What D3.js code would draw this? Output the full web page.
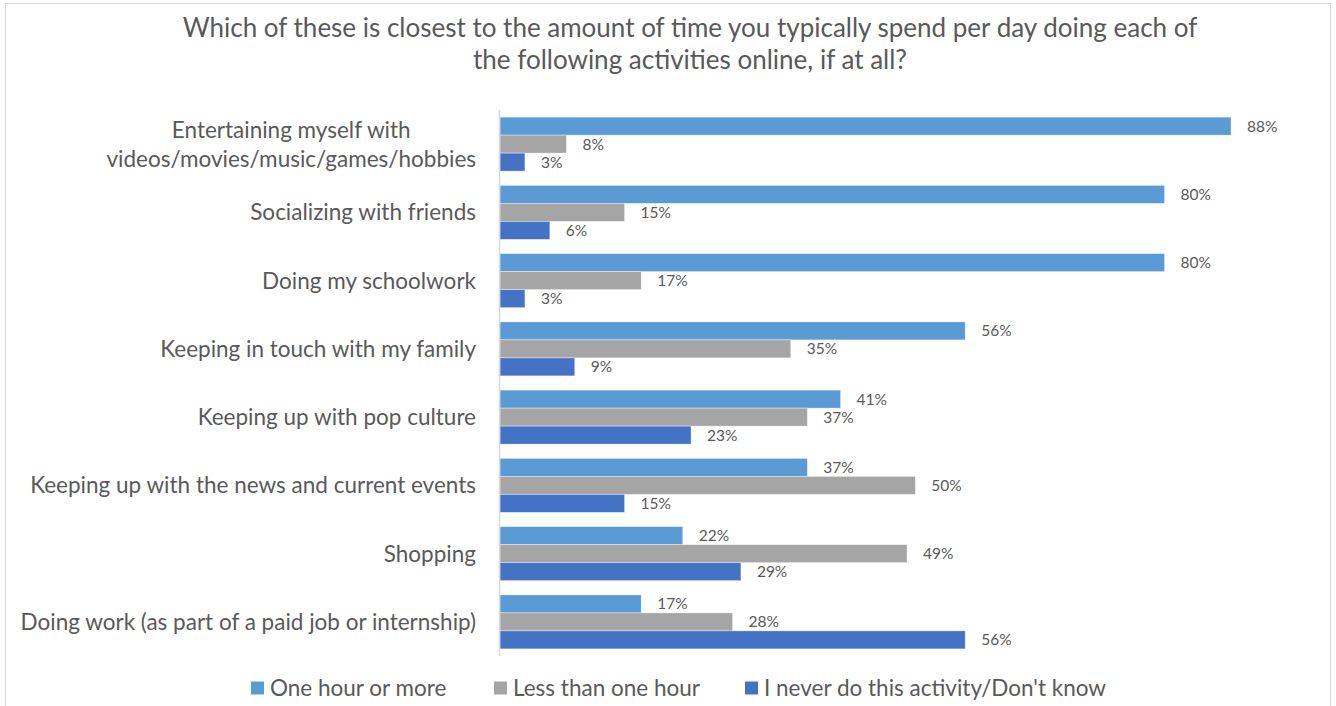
<!DOCTYPE html>
<html>
<head>
<meta charset="utf-8">
<script src="https://cdn.jsdelivr.net/npm/d3@7"></script>
<style>
  html, body { margin: 0; padding: 0; background: #fff; }
  svg { display: block; font-family: Lato, "Open Sans", sans-serif; }
</style>
</head>
<body>
<svg id="chart" width="1336" height="706"></svg>
<script>
// Survey answers: share of respondents per activity (%)
const categories = [
  ["Entertaining myself with", "videos/movies/music/games/hobbies"],
  ["Socializing with friends"],
  ["Doing my schoolwork"],
  ["Keeping in touch with my family"],
  ["Keeping up with pop culture"],
  ["Keeping up with the news and current events"],
  ["Shopping"],
  ["Doing work (as part of a paid job or internship)"]
];
const seriesNames = ["One hour or more", "Less than one hour", "I never do this activity/Don't know"];
const oneHourOrMore   = [88, 80, 80, 56, 41, 37, 22, 17];
const lessThanOneHour = [8, 15, 17, 35, 37, 50, 49, 28];
const neverOrDontKnow = [3, 6, 3, 9, 23, 15, 29, 56];
const seriesColors = ["#5B9BD5", "#A5A5A5", "#4472C4"];
const titleLines = [
  "Which of these is closest to the amount of time you typically spend per day doing each of",
  "the following activities online, if at all?"
];

const seriesValues = [oneHourOrMore, lessThanOneHour, neverOrDontKnow];
const catKeys = categories.map(c => c.join(" "));
const textColor = "#595959";

const svg = d3.select("#chart");

// outer chart frame
svg.append("rect")
  .attr("x", 5.5).attr("y", 3.5)
  .attr("width", 1325).attr("height", 720)
  .attr("fill", "#fff")
  .attr("stroke", "#d9d9d9").attr("stroke-width", 1);

// title
svg.append("g").selectAll("text")
  .data(titleLines)
  .join("text")
  .attr("x", 690)
  .attr("y", (d, i) => 37 + i * 32)
  .attr("text-anchor", "middle")
  .attr("fill", textColor)
  .attr("font-size", 26)
  .text(d => d);

// scales
const x = d3.scaleLinear().domain([0, 100]).range([500, 1330.7]);
const y = d3.scaleBand().domain(catKeys).range([110, 656]).paddingInner(0.209).paddingOuter(0.1045);
const ySub = d3.scaleBand().domain(d3.range(seriesNames.length)).range([0, y.bandwidth()]);

// bars
const groups = svg.append("g").selectAll("g")
  .data(catKeys)
  .join("g")
  .attr("transform", d => `translate(0,${y(d)})`);

groups.each(function (key, ci) {
  const g = d3.select(this);
  const rows = seriesValues.map((vals, si) => ({ si, v: vals[ci] }));
  g.selectAll("rect")
    .data(rows)
    .join("rect")
    .attr("x", x(0))
    .attr("y", d => ySub(d.si))
    .attr("width", d => x(d.v) - x(0))
    .attr("height", ySub.bandwidth())
    .attr("fill", d => seriesColors[d.si])
    .attr("stroke", "#fff")
    .attr("stroke-opacity", 0.5)
    .attr("stroke-width", 0.75);
  g.selectAll("text")
    .data(rows)
    .join("text")
    .attr("x", d => x(d.v) + 16)
    .attr("y", d => ySub(d.si) + ySub.bandwidth() / 2)
    .attr("dy", "0.36em")
    .attr("fill", textColor)
    .attr("font-size", 15.5)
    .text(d => d.v + "%");
});

// category axis line
svg.append("line")
  .attr("x1", x(0) - 0.5).attr("x2", x(0) - 0.5)
  .attr("y1", y.range()[0]).attr("y2", y.range()[1])
  .attr("stroke", "#d9d9d9").attr("stroke-width", 1.5);

// category labels: a wrapped label is centred on its widest line,
// and the block as a whole is right-aligned against the axis
const labelRight = 476;
const catLabels = svg.append("g").selectAll("text")
  .data(categories)
  .join("text")
  .attr("fill", textColor)
  .attr("font-size", 22.5)
  .attr("transform", (d, i) => `translate(0,${y(catKeys[i]) + y.bandwidth() / 2})`);
catLabels.each(function (lines) {
  const t = d3.select(this);
  const spans = t.selectAll("tspan")
    .data(lines.map((line, j) => ({ line, j, n: lines.length })))
    .join("tspan")
    .attr("y", d => (d.j - (d.n - 1) / 2) * 29)
    .attr("dy", "0.35em")
    .text(d => d.line);
  if (lines.length === 1) {
    t.attr("text-anchor", "end");
    spans.attr("x", labelRight);
  } else {
    const widest = d3.max(spans.nodes(), n => n.getComputedTextLength());
    t.attr("text-anchor", "middle");
    spans.attr("x", labelRight - widest / 2);
  }
});

// legend
const legendX = [251, 494, 745];
const legend = svg.append("g").selectAll("g")
  .data(seriesNames)
  .join("g")
  .attr("transform", (d, i) => `translate(${legendX[i]},688)`);
legend.append("rect")
  .attr("x", 0).attr("y", -6.5)
  .attr("width", 13).attr("height", 13)
  .attr("fill", (d, i) => seriesColors[i]);
legend.append("text")
  .attr("x", 19).attr("y", 0)
  .attr("dy", "0.35em")
  .attr("fill", textColor)
  .attr("font-size", 22.5)
  .text(d => d);
</script>
</body>
</html>
